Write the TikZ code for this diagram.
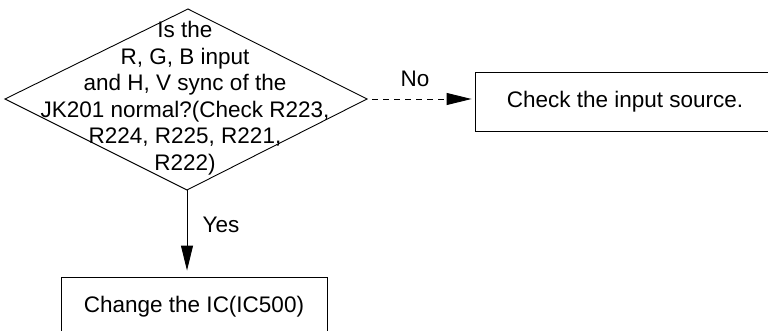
\documentclass[tikz,border=0pt]{standalone}
\usepackage{fontspec}
\setmainfont{Liberation Sans}
\usetikzlibrary{arrows.meta}
\begin{document}
\begin{tikzpicture}[x=1pt,y=-1pt,line width=0.9pt,
  txt/.style={font=\fontsize{22.5}{26.5}\selectfont,inner sep=0pt},
  box/.style={draw,txt},
  arr/.style={-{Triangle[length=25pt,width=12pt]}}]
\useasboundingbox (0,0) rectangle (768,331);
\clip (0,0) rectangle (768,331);
% decision diamond
\coordinate (dT) at (188,9);
\coordinate (dR) at (367,99);
\coordinate (dB) at (187,190);
\coordinate (dL) at (5,99);
\draw (dT) -- (dR) -- (dB) -- (dL) -- cycle;
\node[txt,align=center] (q) at (185,98) {Is the\\R, G, B input\\and H, V sync of the\\JK201 normal?(Check R223,\\R224, R225, R221,\\R222)};
% boxes
\node[box,minimum width=300pt,minimum height=59pt] (src) at (625,101.5) {Check the input source.};
\node[box,minimum width=266pt,minimum height=60pt] (ic) at (194,307) {Change the IC(IC500)};
% connectors
\draw[arr,dashed,dash pattern=on 6pt off 5pt,shorten <=5pt,shorten >=3pt] (dR) -- (dR -| src.west);
\node[txt] (no) at (415,79) {No};
\draw[arr,shorten >=6pt] (dB) -- (dB |- ic.north);
\node[txt] (yes) at (221,225) {Yes};
\end{tikzpicture}
\end{document}
